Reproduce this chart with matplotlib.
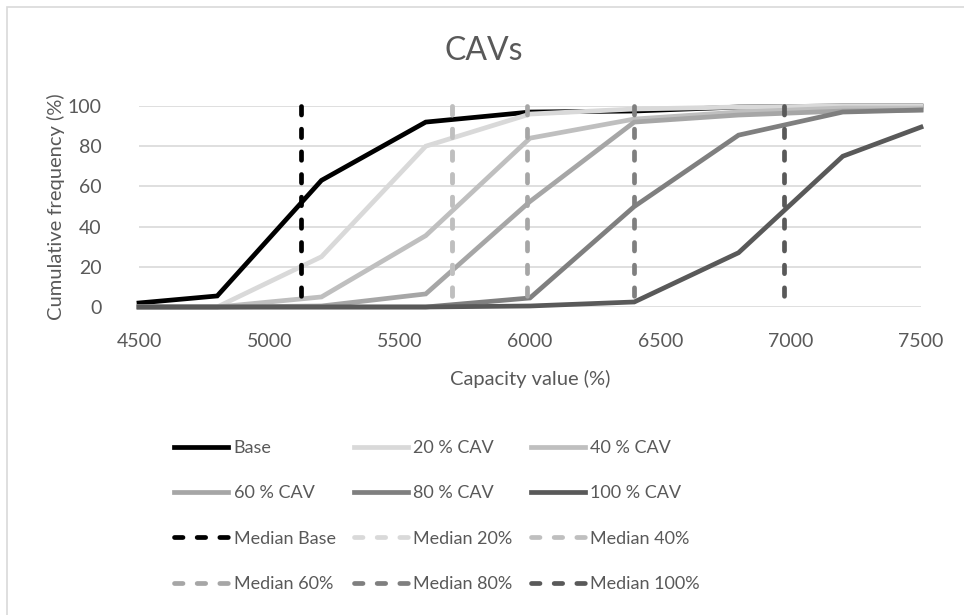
import matplotlib
matplotlib.use('Agg')
import matplotlib.pyplot as plt
from matplotlib.patches import Rectangle

plt.rcParams['font.family'] = ['Lato', 'DejaVu Sans']

capacity = [4500, 4800, 5200, 5600, 6000, 6400, 6800, 7200, 7500]

base = [2, 5.5, 63, 92, 97, 97.5, 99.5, 100, 100]
cav20 = [0, 0, 25, 80, 96, 98.5, 99.5, 100, 100]
cav40 = [0, 0, 5, 35.5, 84, 93.5, 97, 99, 99]
cav60 = [0, 0, 0.5, 6.5, 52.5, 92, 95.5, 97.5, 98]
cav80 = [0, 0, 0, 0, 4.5, 50, 85.5, 97, 98]
cav100 = [0, 0, 0, 0, 0.5, 2.5, 27, 75, 89.5]

medians = [5120, 5700, 5700, 5990, 6400, 6975]

series_names = ['Base', '20 % CAV', '40 % CAV', '60 % CAV', '80 % CAV', '100 % CAV']
median_names = ['Median Base', 'Median 20%', 'Median 40%', 'Median 60%', 'Median 80%', 'Median 100%']
colors = ['#000000', '#d9d9d9', '#bfbfbf', '#a6a6a6', '#7f7f7f', '#595959']

text_c = '#595959'
grid_c = '#d9d9d9'

fig = plt.figure(figsize=(9.64, 6.15), dpi=100)
fig.patches.append(Rectangle((7 / 964, -0.1), 1.2, (615 - 7) / 615 + 0.1,
                             transform=fig.transFigure, fill=False,
                             edgecolor=grid_c, linewidth=1.2))

ax = fig.add_axes([139 / 964, 1 - 307 / 615, 782 / 964, 201 / 615])

lw = 3.4
handles = []
for name, vals, c in zip(series_names, [base, cav20, cav40, cav60, cav80, cav100], colors):
    h, = ax.plot(capacity, vals, color=c, linewidth=lw, label=name,
                 solid_joinstyle='miter', clip_on=False, zorder=3)
    handles.append(h)

mhandles = []
for name, m, c in zip(median_names, medians, colors):
    h, = ax.plot([m, m], [100, 0], color=c, linewidth=lw, label=name,
                 linestyle=(0.0, (1.8, 3.0)), dash_capstyle='round',
                 clip_on=False, zorder=4)
    mhandles.append(h)

ax.set_xlim(4500, 7500)
ax.set_ylim(0, 100)
ax.set_xticks(range(4500, 7501, 500))
ax.set_yticks(range(0, 101, 20))
ax.grid(axis='y', color=grid_c, linewidth=1.2, zorder=0)
ax.set_axisbelow(True)
for s in ax.spines.values():
    s.set_visible(False)
ax.tick_params(length=0, labelsize=14, labelcolor=text_c)
ax.tick_params(axis='x', pad=19)
ax.tick_params(axis='y', pad=27)

ax.set_xlabel('Capacity value (%)', fontsize=14.5, color=text_c, labelpad=14)
ax.set_ylabel('Cumulative frequency (%)', fontsize=14.5, color=text_c, labelpad=2)
fig.text(484 / 964, 1 - 51 / 615, 'CAVs', fontsize=23, color=text_c,
         ha='center', va='center')

# legend: row-wise order, matplotlib fills by column
all_h = handles + mhandles
rows = [all_h[0:3], all_h[3:6], all_h[6:9], all_h[9:12]]
ordered = [rows[r][c] for c in range(3) for r in range(4)]
leg = fig.legend(handles=ordered, labels=[h.get_label() for h in ordered],
                 ncol=3, loc='upper left', bbox_to_anchor=(158 / 964, 1 - 424 / 615),
                 frameon=False, fontsize=13, handlelength=3.0, handletextpad=0.3,
                 columnspacing=1.0, labelspacing=1.62, labelcolor=text_c)

fig.savefig('out.png', dpi=100)
